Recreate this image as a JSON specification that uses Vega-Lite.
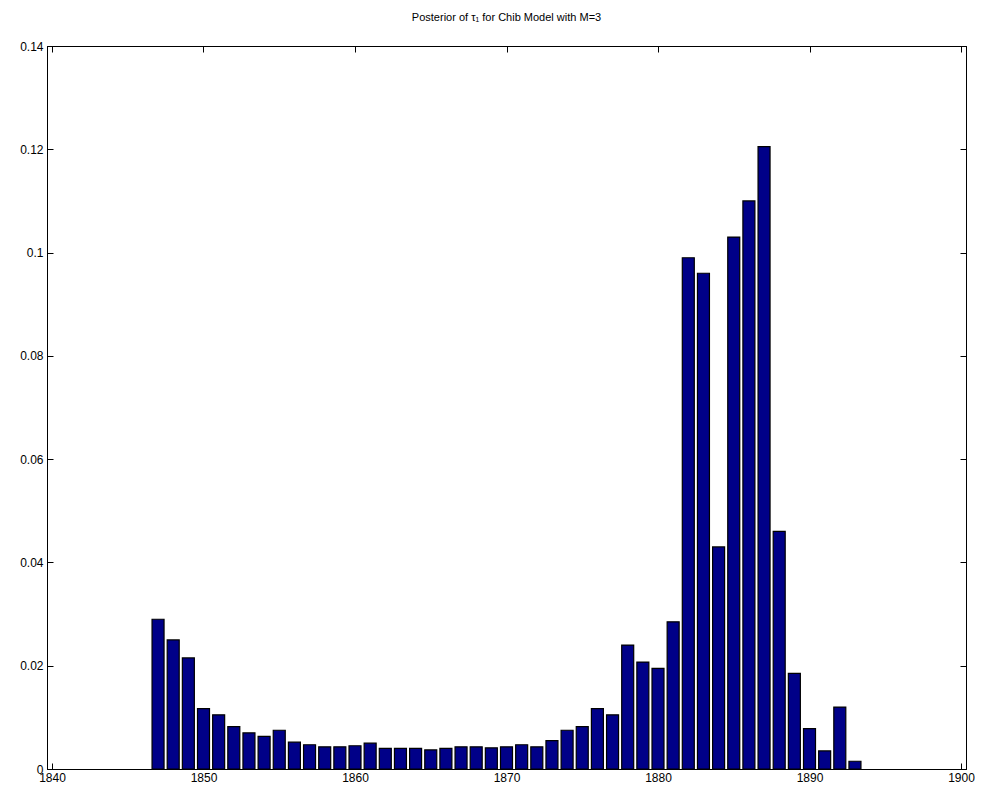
{
"$schema":"https://vega.github.io/schema/vega-lite/v6.json",
"width":919,"height":723,
"padding":{"left":19,"top":12,"right":0,"bottom":0},
"background":"white",
"title":{"text":"Posterior of τ₁ for Chib Model with M=3","font":"Liberation Sans","fontSize":11,"fontWeight":"normal","color":"black","offset":17},
"config":{"view":{"stroke":"black","strokeWidth":1},"axis":{"labelFont":"Liberation Sans","labelFontSize":12,"labelColor":"black","domainColor":"black","tickColor":"black","grid":false,"tickSize":-6,"title":null,"labelPadding":10}},
"data":{"values":[
{"x":1847,"y":0.029},{"x":1848,"y":0.025},{"x":1849,"y":0.0215},{"x":1850,"y":0.0117},{"x":1851,"y":0.0105},{"x":1852,"y":0.0082},{"x":1853,"y":0.007},{"x":1854,"y":0.0063},{"x":1855,"y":0.0075},{"x":1856,"y":0.0052},{"x":1857,"y":0.0047},{"x":1858,"y":0.0043},{"x":1859,"y":0.0043},{"x":1860,"y":0.0045},{"x":1861,"y":0.005},{"x":1862,"y":0.004},{"x":1863,"y":0.004},{"x":1864,"y":0.004},{"x":1865,"y":0.0037},{"x":1866,"y":0.004},{"x":1867,"y":0.0043},{"x":1868,"y":0.0043},{"x":1869,"y":0.0041},{"x":1870,"y":0.0043},{"x":1871,"y":0.0047},{"x":1872,"y":0.0043},{"x":1873,"y":0.0055},{"x":1874,"y":0.0075},{"x":1875,"y":0.0082},{"x":1876,"y":0.0117},{"x":1877,"y":0.0105},{"x":1878,"y":0.024},{"x":1879,"y":0.0207},{"x":1880,"y":0.0195},{"x":1881,"y":0.0285},{"x":1882,"y":0.099},{"x":1883,"y":0.096},{"x":1884,"y":0.043},{"x":1885,"y":0.103},{"x":1886,"y":0.11},{"x":1887,"y":0.1205},{"x":1888,"y":0.046},{"x":1889,"y":0.0185},{"x":1890,"y":0.0078},{"x":1891,"y":0.0035},{"x":1892,"y":0.012},{"x":1893,"y":0.0015}
]},
"layer":[
{"mark":{"type":"bar","width":12,"color":"#000088","stroke":"black","strokeWidth":1.2},
 "encoding":{
  "x":{"field":"x","type":"quantitative","scale":{"domain":[1840,1900],"nice":false,"zero":false},"axis":{"values":[1840,1850,1860,1870,1880,1890,1900],"format":"d","orient":"bottom","labelPadding":9}},
  "y":{"field":"y","type":"quantitative","scale":{"domain":[0,0.14],"nice":false},"axis":{"values":[0,0.02,0.04,0.06,0.08,0.1,0.12,0.14],"format":"~g","orient":"left","labelPadding":10}}}},
{"mark":{"type":"bar","opacity":0},
 "encoding":{
  "x":{"field":"x","type":"quantitative","axis":{"values":[1840,1850,1860,1870,1880,1890,1900],"orient":"top","labels":false}},
  "y":{"field":"y","type":"quantitative","axis":{"values":[0,0.02,0.04,0.06,0.08,0.1,0.12,0.14],"orient":"right","labels":false}}}}
],
"resolve":{"axis":{"x":"independent","y":"independent"}}
}
